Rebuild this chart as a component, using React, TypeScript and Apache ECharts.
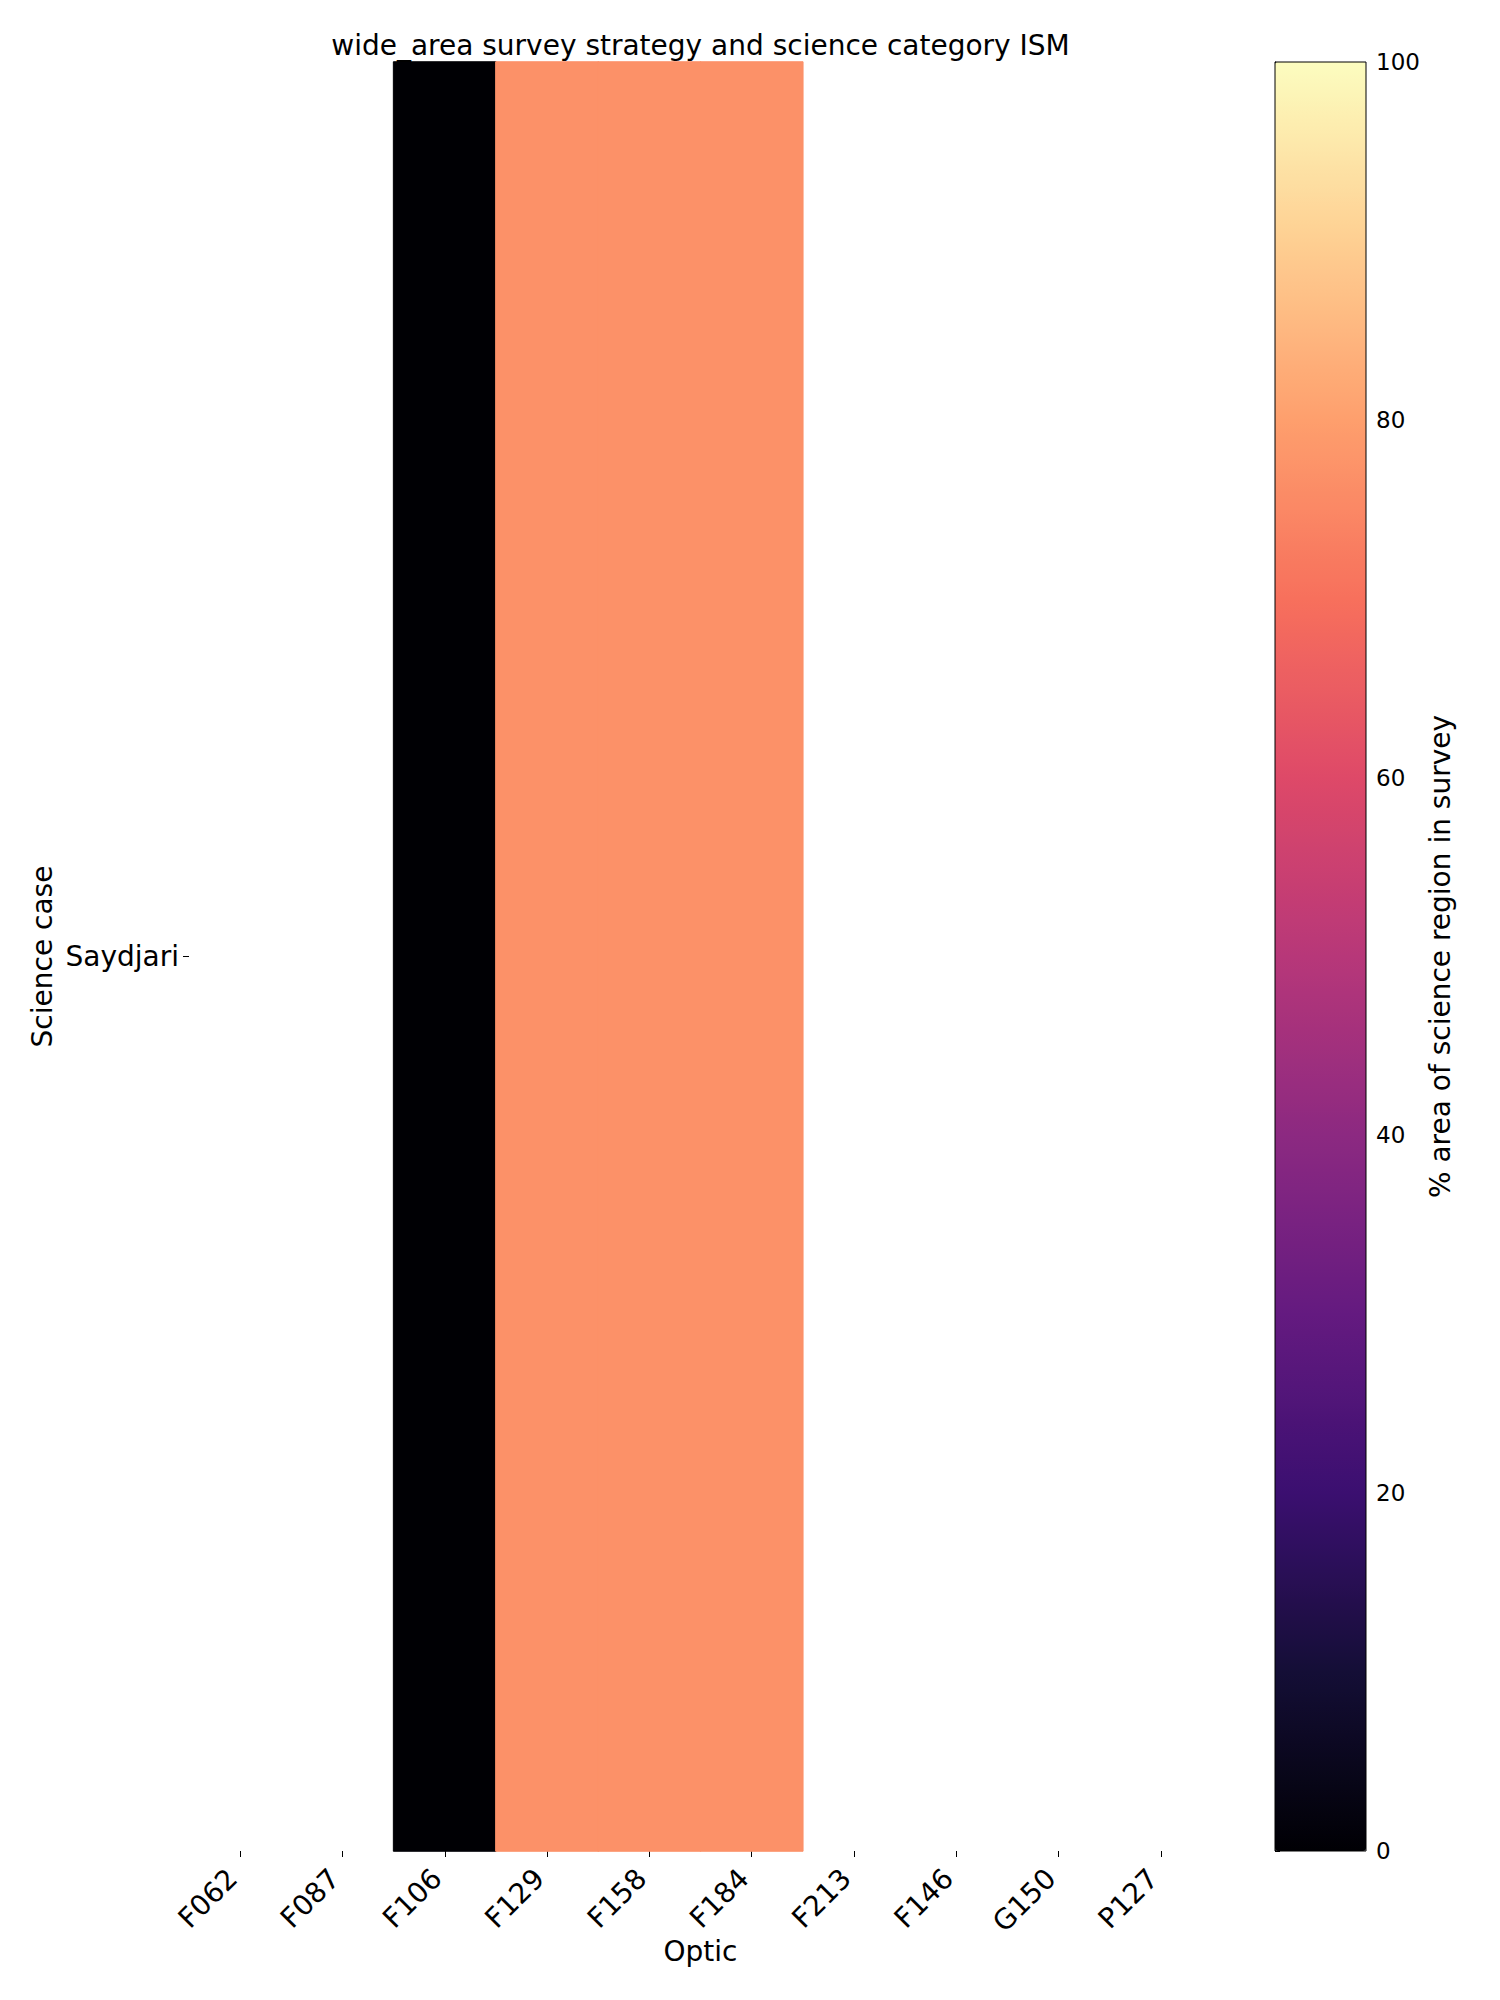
import React, { useEffect, useRef } from "react";
import * as echarts from "echarts";

const optics = ["F062", "F087", "F106", "F129", "F158", "F184", "F213", "F146", "G150", "P127"];
const scienceCases = ["Saydjari"];
const saydjariValues: (number | null)[] = [null, null, 0, 77, 77, 77, null, null, null, null];
const colorbarTicks = [0, 20, 40, 60, 80, 100];
const magma = [
  "#000004", "#140e36", "#3b0f70", "#641a80", "#8c2981", "#b73779",
  "#de4968", "#f7705c", "#fe9f6d", "#fecf92", "#fcfdbf",
];
const titleText = "wide_area survey strategy and science category ISM";

const FONT = "DejaVu Sans";

export default function App() {
  const ref = useRef<HTMLDivElement>(null);
  useEffect(() => {
    if (!ref.current) return;
    const chart = echarts.init(ref.current, null, { renderer: "svg" });
    const vMin = colorbarTicks[0];
    const vMax = colorbarTicks[colorbarTicks.length - 1];
    const rows = [saydjariValues];
    const data: any[] = [];
    rows.forEach((row, yi) =>
      row.forEach((v, xi) => {
        if (v !== null) {
          const c = echarts.color.lerp((v - vMin) / (vMax - vMin), magma);
          data.push({ value: [xi, yi, v], itemStyle: { borderWidth: 1, borderColor: c } });
        }
      })
    );
    const gL = 189, gT = 62, gW = 1023, gH = 1789;
    const cL = 1275, cW = 91;
    chart.setOption({
      animation: false,
      backgroundColor: "#ffffff",
      textStyle: { fontFamily: FONT, color: "#000" },
      title: {
        text: titleText,
        left: gL + gW / 2,
        top: 31,
        textAlign: "center",
        padding: 0,
        textStyle: { fontFamily: FONT, fontSize: 28, fontWeight: "normal", color: "#000" },
      },
      grid: [
        { left: gL, top: gT, width: gW, height: gH, show: false },
        {
          left: cL, top: gT, width: cW, height: gH, show: true, z: 10,
          borderColor: "#000", borderWidth: 1, backgroundColor: "transparent",
        },
      ],
      xAxis: [
        {
          type: "category",
          gridIndex: 0,
          data: optics,
          name: "Optic",
          nameLocation: "middle",
          nameGap: 86,
          nameMoveOverlap: false,
          nameTextStyle: { fontFamily: FONT, fontSize: 28, color: "#000" },
          axisLine: { show: false },
          axisTick: { show: true, alignWithLabel: true, length: 6, lineStyle: { color: "#000", width: 1 } },
          axisLabel: {
            rotate: 45, fontSize: 28, color: "#000", fontFamily: FONT, margin: 15, interval: 0,
            padding: [0, 11, 0, 0],
          },
          splitLine: { show: false },
        },
        { type: "value", gridIndex: 1, min: 0, max: 1, show: false },
      ],
      yAxis: [
        {
          type: "category",
          gridIndex: 0,
          data: scienceCases,
          name: "Science case",
          nameLocation: "middle",
          nameGap: 133,
          nameMoveOverlap: false,
          nameTextStyle: { fontFamily: FONT, fontSize: 28, color: "#000" },
          axisLine: { show: false },
          axisTick: { show: true, alignWithLabel: true, length: 6, lineStyle: { color: "#000", width: 1 } },
          axisLabel: { fontSize: 28, color: "#000", fontFamily: FONT, margin: 10 },
          splitLine: { show: false },
        },
        {
          type: "value",
          gridIndex: 1,
          min: vMin,
          max: vMax,
          interval: 20,
          position: "right",
          name: "% area of science region in survey",
          nameLocation: "middle",
          nameGap: 60,
          nameMoveOverlap: false,
          nameTextStyle: { fontFamily: FONT, fontSize: 28, color: "#000" },
          axisLine: { show: true, lineStyle: { color: "#000", width: 1 } },
          axisTick: { show: true, length: 5, lineStyle: { color: "#000", width: 1 } },
          axisLabel: { fontSize: 23, color: "#000", fontFamily: FONT, margin: 10 },
          splitLine: { show: false },
        },
      ],
      visualMap: {
        type: "continuous",
        min: vMin,
        max: vMax,
        seriesIndex: 0,
        left: cL,
        top: gT,
        itemWidth: cW,
        itemHeight: gH,
        padding: 0,
        calculable: false,
        hoverLink: false,
        realtime: false,
        text: null,
        showLabel: false,
        inRange: { color: magma },
      },
      series: [
        {
          type: "heatmap",
          xAxisIndex: 0,
          yAxisIndex: 0,
          data,
          emphasis: { disabled: true },
        },
      ],
    });
    return () => chart.dispose();
  }, []);
  return (
    <div
      ref={ref}
      style={{ position: "absolute", left: 0, top: 0, width: 1500, height: 2000 }}
    />
  );
}
